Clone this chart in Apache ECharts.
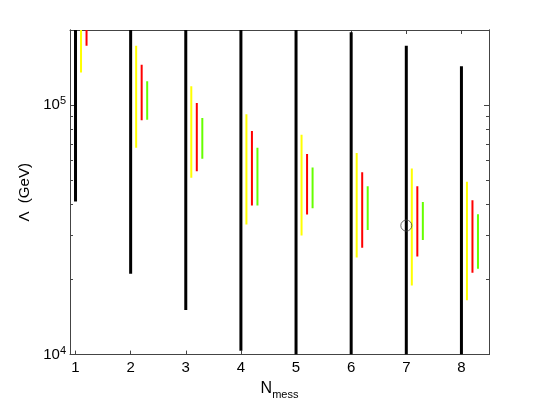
<!DOCTYPE html>
<html>
<head>
<meta charset="utf-8">
<script src="https://cdn.jsdelivr.net/npm/echarts@6/dist/echarts.min.js"></script>
<style>
  html, body { margin: 0; padding: 0; background: #fff; }
  #chart { width: 540px; height: 405px; }
</style>
</head>
<body>
<div id="chart"></div>
<script>
    // N_mess values, one group per value
    var nMess = [1, 2, 3, 4, 5, 6, 7, 8];
    var xTicks = [1, 2, 3, 4, 5, 6, 7, 8];
    var yMajorTicks = [1e4, 1e5];
    var yMinorTicks = [2e4, 3e4, 4e4, 5e4, 6e4, 7e4, 8e4, 9e4, 2e5];

    // ranges [low, high] in GeV
    var blackRanges = [[4.11e4, 2e5], [2.11e4, 2e5], [1.51e4, 2e5], [1.035e4, 2e5],
                       [1e4, 2e5], [1e4, 1.96e5], [1e4, 1.73e5], [1e4, 1.43e5]];
    var yellowRanges = [[1.35e5, 2e5], [6.75e4, 1.73e5], [5.12e4, 1.19e5], [3.32e4, 9.2e4],
                        [3.0e4, 7.6e4], [2.45e4, 6.43e4], [1.89e4, 5.57e4], [1.65e4, 4.93e4]];
    var redRanges = [[1.73e5, 2e5], [8.7e4, 1.45e5], [5.43e4, 1.02e5], [3.96e4, 7.88e4],
                     [3.64e4, 6.37e4], [2.68e4, 5.38e4], [2.47e4, 4.73e4], [2.13e4, 4.16e4]];
    var greenRanges = [null, [8.74e4, 1.245e5], [6.09e4, 8.88e4], [3.96e4, 6.75e4],
                       [3.86e4, 5.62e4], [3.16e4, 4.73e4], [2.88e4, 4.09e4], [2.21e4, 3.65e4]];
    var circlePoint = [7, 3.29e4];

    function makeData (ranges, offset) {
        let out = [];
        ranges.forEach(function (r, i) {
            if (r) out.push([nMess[i] + offset, r[0], r[1]]);
        });
        return out;
    }

    function barSeries (ranges, offset, color, width) {
        return {
            type: 'custom',
            clip: true,
            xAxisIndex: 0,
            yAxisIndex: 0,
            data: makeData(ranges, offset),
            renderItem: function (params, api) {
                let p1 = api.coord([api.value(0), api.value(1)]);
                let p2 = api.coord([api.value(0), api.value(2)]);
                return {
                    type: 'line',
                    shape: { x1: p1[0], y1: p1[1], x2: p2[0], y2: p2[1] },
                    style: { stroke: color, lineWidth: width }
                };
            },
            silent: true
        };
    }

    var font = 'Liberation Sans, Arial, sans-serif';
    var axisColor = '#444';

    function xAxisDef (pos, show) {
        return {
            type: 'value', position: pos, min: 0.9, max: 8.5,
            axisLine: { show: true, onZero: false, lineStyle: { color: axisColor, width: 1 } },
            axisTick: { show: true, inside: true, length: 4, customValues: xTicks, lineStyle: { color: axisColor } },
            axisLabel: { show: show, customValues: xTicks, margin: 6, color: '#000', fontSize: 15, fontFamily: font },
            splitLine: { show: false }
        };
    }

    function yAxisDef (pos, ticks, len, labels) {
        return {
            type: 'log', logBase: 10, position: pos, min: 1e4, max: 2e5,
            axisLine: { show: true, onZero: false, lineStyle: { color: axisColor, width: 1 } },
            axisTick: { show: true, inside: true, length: len, customValues: ticks, lineStyle: { color: axisColor } },
            axisLabel: {
                show: labels, customValues: ticks, margin: 4, color: '#000', fontSize: 15, fontFamily: font,
                formatter: function (v) { return '10{sup|' + Math.round(Math.log10(v)) + '}'; },
                rich: { sup: { fontSize: 11, fontFamily: font, color: '#000', verticalAlign: 'top', padding: [0, 0, 8, 0] } }
            },
            splitLine: { show: false }, minorTick: { show: false }
        };
    }

    var chart = echarts.init(document.getElementById('chart'));
    var yLeft = yAxisDef('left', yMajorTicks, 5, true);
    yLeft.name = 'Λ  (GeV)';
    yLeft.nameLocation = 'middle';
    yLeft.nameGap = 38;
    yLeft.nameTextStyle = { fontSize: 15, fontFamily: font, color: '#000' };
    var xBottom = xAxisDef('bottom', true);
    xBottom.name = 'N{sub|mess}';
    xBottom.nameLocation = 'middle';
    xBottom.nameGap = 22;
    xBottom.nameTextStyle = {
        fontSize: 16, fontFamily: font, color: '#000',
        rich: { sub: { fontSize: 11, fontFamily: font, color: '#000', padding: [12, 0, 0, 0] } }
    };

    var option = {
        animation: false,
        backgroundColor: '#fff',
        grid: { left: 70, right: 51, top: 30, bottom: 46 },
        xAxis: [xBottom, xAxisDef('top', false)],
        yAxis: [yLeft, yAxisDef('left', yMinorTicks, 3, false),
                yAxisDef('right', yMajorTicks, 5, false), yAxisDef('right', yMinorTicks, 3, false)],
        series: [
            barSeries(blackRanges, 0, '#000', 3),
            barSeries(yellowRanges, 0.1, '#ffff00', 2),
            barSeries(redRanges, 0.2, '#ff0000', 2),
            barSeries(greenRanges, 0.3, '#66ff00', 2),
            {
                type: 'scatter', xAxisIndex: 0, yAxisIndex: 0,
                data: [circlePoint], symbol: 'circle', symbolSize: 11,
                itemStyle: { color: 'rgba(0,0,0,0)', borderColor: '#444', borderWidth: 1 },
                silent: true
            }
        ]
    };
    chart.setOption(option);
</script>
</body>
</html>
